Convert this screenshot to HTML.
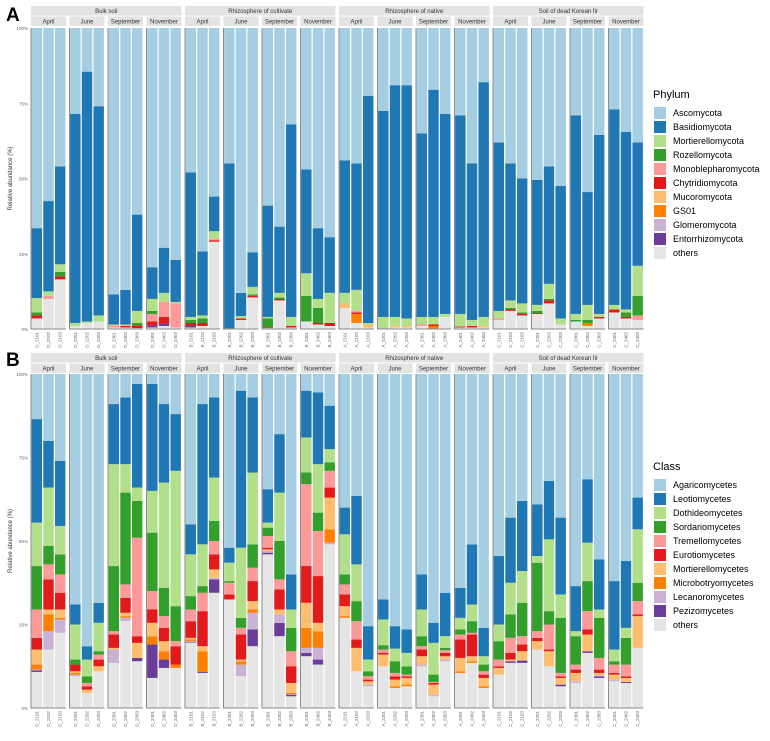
<!DOCTYPE html>
<html><head><meta charset="utf-8">
<style>
body{margin:0;background:#fff;width:770px;height:736px;overflow:hidden;font-family:"Liberation Sans",sans-serif}
svg text{font-family:"Liberation Sans",sans-serif}
</style></head>
<body>
<svg id="chart" width="770" height="736" viewBox="0 0 770 736" xmlns="http://www.w3.org/2000/svg"></svg>
<script>
const groups = ["Bulk soil","Rhizosphere of cultivate","Rhizosphere of native","Soil of dead Korean fir"];
const groupCodes = ["D","B","A","C"];
const months = ["April","June","September","November"];
const monthCodes = ["21","22","23","24"];
const reps = ["01","02","03"];
const yTicks = [0,25,50,75,100];
const yTickLabels = ["0%","25%","50%","75%","100%"];

const phyla = ["Ascomycota","Basidiomycota","Mortierellomycota","Rozellomycota","Monoblepharomycota","Chytridiomycota","Mucoromycota","GS01","Glomeromycota","Entorrhizomycota","others"];
const phylaColors = ["#a6cee3","#1f78b4","#b2df8a","#33a02c","#fb9a99","#e31a1c","#fdbf6f","#ff7f00","#cab2d6","#6a3d9a","#e5e5e5"];
const classes = ["Agaricomycetes","Leotiomycetes","Dothideomycetes","Sordariomycetes","Tremellomycetes","Eurotiomycetes","Mortierellomycetes","Microbotryomycetes","Lecanoromycetes","Pezizomycetes","others"];
const classColors = phylaColors;

// Cumulative tops (%) from bottom: others, Entorrhizo, Glomero, GS01, Mucoro, Chytridio, Monoblepharo, Rozello, Mortierello, Basidio (Ascomycota fills to 100)
const phylumCum = [
[3.5,3.5,3.5,3.5,3.5,4.5,4.5,5.5,10.3,33.5],
[10,10,10,10,10,10,11,11,12.5,42.5],
[16.5,16.5,16.5,16.5,16.5,17.5,17.5,19,21.5,54],
[1,1,1,1,1,1,1,1,2,71.5],
[2,2,2,2,2,2,2,2,2.5,85.5],
[2.5,2.5,2.5,2.5,2.5,2.5,2.5,2.5,4.5,74],
[0.5,0.5,0.5,0.5,0.5,0.5,1,1,1.5,11.5],
[0.5,0.5,0.5,0.5,0.5,1,1,1,1.5,13],
[0.3,0.3,0.3,0.3,0.3,1,1,2,6,38],
[0.5,1.2,1.2,1.2,1.2,2.5,5,6,10,20.5],
[1,1.8,1.8,1.8,1.8,4,9,9,12,27],
[0.5,0.5,0.5,0.5,0.5,0.5,8.5,8.5,9,23],
[0.5,1,1,1,1,2,2,3,4,52],
[1,1,1,1,1,2,2,3.5,4.5,25.8],
[29,29,29,29,29,29.5,30,30,32.5,44],
[0,0,0,0,0,0,0,0.3,0.3,55],
[3,3,3,3,3,3.5,3.5,3.5,4.3,12],
[10.5,10.5,10.5,10.5,10.5,11,11,11.5,14,25.5],
[0.3,0.3,0.3,0.3,0.3,0.6,0.6,3.5,4,41],
[9.5,9.5,9.5,9.5,9.5,10,10,10.5,12,34],
[0.5,0.5,0.5,0.5,0.5,1,1,1,4,68],
[2.5,2.5,2.5,2.5,2.5,2.5,2.5,11,18.5,53],
[1.5,1.5,1.5,1.5,1.5,2,2,7,10,33.5],
[1,1,1,1,1,2,2,2,12,30.5],
[7,7,7,7,8.5,8.5,8.5,8.5,12,56],
[2,2,2,5,5,5.5,6,6,13,55],
[0.5,0.5,0.5,0.5,1.5,1.5,1.5,1.5,2,77.5],
[0,0,0,0,0,0,0,0,4,72.5],
[0.5,0.5,0.5,0.5,1,1,1,1,4,81],
[0.5,0.5,0.5,0.5,1,1,1,1,3.5,81],
[1,1,1,1,1,1,1.5,1.5,4,65],
[0,0,0,1,1,1.5,1.5,1.5,4,79.5],
[4,4,4,4,4,4,4,4,5,71.5],
[0.5,0.5,0.5,0.5,0.5,0.8,0.8,0.8,5,71],
[0.5,0.5,0.5,0.5,0.5,1,1,1,3,55],
[0.5,0.5,0.5,0.5,1,1,1,1,4,82],
[3,3,3,3,3,3,3.5,3.5,6,62],
[6,6,6,6,6,6.5,6.5,7,9.5,55],
[4.5,4.5,4.5,4.5,4.5,5,5,5.5,8.5,50],
[5,5,5,5,5,5.3,5.3,6,8,49.5],
[8.5,8.5,8.5,8.5,8.5,9.5,9.5,10,15,54],
[1.5,1.5,1.5,1.5,1.5,1.5,1.5,1.5,3.5,47.5],
[2.5,2.5,2.5,2.5,2.5,2.5,2.5,3,5,71],
[1,1,1,2,2,2,2,3,8,45.5],
[3.5,3.5,3.5,3.5,3.5,4,4,4,5,64.5],
[5.5,5.5,5.5,5.5,5.5,6.5,6.5,6.5,8,73],
[3.5,3.5,3.5,3.5,3.5,4,4,5.5,6.5,65.5],
[3,3,3,3,3,3,4.5,11,21,62]
];

// Cumulative tops (%) from bottom: others, Pezizo, Lecanoro, Microbotryo, Mortierello, Eurotio, Tremello, Sordario, Dothideo, Leotio (Agaricomycetes fills to 100)
const classCum = [
[10.8,11.3,11.5,13,17.5,21,29.5,42.5,55.5,86.5],
[17.5,17.5,23,28,29.5,38.5,43,48.5,66,80],
[22.5,22.5,26.5,27,29.5,34.5,40,46,54.5,74],
[9.5,9.5,10,10.5,11,13,13,14.5,25,31],
[4.5,4.5,4.5,4.5,5.5,6.5,7.5,9.5,14.5,18.5],
[11,11,11,11,12.5,14.5,16,17,25.5,31.5],
[13.5,13.5,17.5,17.5,18,22,23,42.5,73,91],
[26,26,27,27.5,28.5,33,37,64.5,73,93],
[14,15,15,15,19.5,21.5,51,62,66,97],
[9,19,19,21.5,25.5,29.5,35,52.5,65,97],
[12,14.5,14.5,17,20,24,27.5,36,67.5,91],
[12,12,12,13,13,18.5,20,30.5,71,88],
[19.5,19.7,20,20.5,21,26,29.5,33.5,46,55],
[10.5,10.8,10.8,17,18.5,29,34.5,36.5,49,91],
[34.5,38.5,39,39,41.5,46,50,56,69,93],
[32.5,32.5,32.5,32.5,32.5,34,37.5,38,43.5,48],
[9.5,9.5,13,14,14.5,22,24,27,48,95],
[18.5,23.5,28.5,29.5,32,38,42,49,70.5,93],
[46,46.5,47,47,47.5,48,51.5,54,55.5,65.5],
[21.5,25.5,28,28,29.5,35.5,38.5,50,64.5,82],
[3.5,4,4.2,4.5,7.5,12.5,17,24,29.5,40],
[15.5,16.5,18,24,31.5,42.5,67,70.5,81,95],
[13,14.5,18,23,25.5,39.5,53,58.5,73,94.5],
[49,49,49.5,53.5,63,66,71,73.5,77.5,90.5],
[27,27,27,27.5,30.5,34,37,40,52,60],
[11,11,11,11,18,20.5,26,32,43,63.5],
[6.5,6.5,7,7,8,8.5,9.5,11,14.5,24.5],
[12.5,12.5,12.5,12.5,16,16.5,17.5,18.8,26.5,32.5],
[6,6,6,6.5,8.5,9.5,10.5,14,17.8,24.5],
[6.5,6.5,6.5,7,9,9.5,10,12.5,16.5,23.5],
[12.5,12.5,13,13,15.5,17.5,18.5,21.5,29.5,40],
[3.5,3.5,4,4,7,7.5,7.8,10,19.5,25.5],
[14,14,14.5,14.5,15.5,16.5,17.3,18,21.5,34.5],
[10.5,10.5,10.5,11,15,20.5,22,23.5,27,36],
[13.5,13.5,13.5,14,15.5,22,22.5,26,31,49],
[6,6,6,6.5,9,10,11,13,15.5,24],
[10,10,10,10,12,12.5,14.5,20,25,45.5],
[13.5,14,14,14,14.5,16.5,21,28,37.5,57],
[13.5,14.2,14.2,14.2,17,19,21.5,31.5,41,62],
[17.5,17.5,17.5,17.5,20,21,23,43.5,45.5,61],
[12.5,12.5,12.5,12.5,17,17.5,25,29,50.5,68],
[6.5,7,7,7,9,9.5,10.5,27,34,57],
[7.5,7.5,8,8,10.5,11.5,13,21.5,23,36.5],
[16.5,17,17,17,22,23.5,29,38,49.5,68.5],
[9,9.5,9.8,9.8,10.5,11.5,15,27,29.5,44.5],
[8,8,8.5,8.5,10,10.5,13,14,17.5,38],
[7.5,7.8,7.8,7.8,9,9.5,13,21,24,44],
[18,18,18,18,27.5,28,32,37.5,53.5,63]
];

const NS="http://www.w3.org/2000/svg";
const svg=document.getElementById('chart');
function mk(tag,attrs,parent){const e=document.createElementNS(NS,tag);for(const k in attrs)e.setAttribute(k,attrs[k]);(parent||svg).appendChild(e);return e;}

const X0=31, groupPitch=154, panelPitch=38.5, panelW=35;
function panelX(g,m){return X0+g*groupPitch+m*panelPitch;}
function barX(g,m,r){return panelX(g,m)+r*(panelW/3)+0.6;}
const barW=panelW/3-1.2;

function drawPanel(cfg){
  const yScale=v=>cfg.yBottom-(v/100)*(cfg.yBottom-cfg.yTop);
  const pg=mk('g',{});
  
  
  const lab=mk('text',{x:6,y:cfg.labelY,'font-size':19,'font-weight':'bold',fill:'#000'},pg);
  lab.textContent=cfg.letter;
  
  
  const yt=mk('text',{x:0,y:0,'font-size':6,fill:'#333','text-anchor':'middle',transform:`translate(12,${(cfg.yTop+cfg.yBottom)/2}) rotate(-90)`},pg);
  yt.textContent='Relative abundance (%)';
  
  
  yTicks.forEach((t,i)=>{
    const tx=mk('text',{x:28,y:yScale(t)+2,'font-size':4.5,fill:'#666','text-anchor':'end'},pg);
    tx.textContent=yTickLabels[i];
    
    
  });
  groups.forEach((gname,g)=>{
    const gx=panelX(g,0), gw=panelX(g,3)+panelW-gx;
    const gs=mk('rect',{x:gx,y:cfg.stripY,width:gw,height:9.5,fill:'#e3e3e3'},pg);
    
    
    const gt=mk('text',{x:gx+gw/2,y:cfg.stripY+7,'font-size':6,fill:'#333','text-anchor':'middle'},pg);
    gt.textContent=gname;
    
    
    months.forEach((mname,m)=>{
      const px=panelX(g,m);
      const ms=mk('rect',{x:px,y:cfg.stripY+10.5,width:panelW,height:9.5,fill:'#e3e3e3'},pg);
      
      
      const mt=mk('text',{x:px+panelW/2,y:cfg.stripY+17.5,'font-size':6,fill:'#333','text-anchor':'middle'},pg);
      mt.textContent=mname;
      
      
      reps.forEach((rep,r)=>{
        const idx=g*12+m*3+r;
        const cum=cfg.data[idx];
        const bx=barX(g,m,r);
        let prev=0;
        const nSeg=cum.length;
        for(let s=0;s<=nSeg;s++){
          const top=s<nSeg?cum[s]:100;
          const ci=cfg.colors.length-1-s;
          if(top>prev){
            const rc=mk('rect',{x:bx,y:yScale(top),width:barW,height:yScale(prev)-yScale(top),fill:cfg.colors[ci]},pg);
            
            
          }
          prev=Math.max(prev,top);
        }
        const lx=bx+barW/2+1.5, ly=cfg.yBottom+3;
        const xl=mk('text',{x:0,y:0,'font-size':4.5,fill:'#666','text-anchor':'end',transform:`translate(${lx},${ly}) rotate(-90)`},pg);
        xl.textContent=groupCodes[g]+'_'+monthCodes[m]+rep;
        
        
      });
      const ax=mk('path',{d:`M${px},${cfg.yTop} V${cfg.yBottom} H${px+panelW}`,stroke:'#8a8a8a','stroke-width':1,fill:'none'},pg);
      
      
    });
  });
  const lt=mk('text',{x:653,y:cfg.legendY,'font-size':11,fill:'#000'},pg);
  lt.textContent=cfg.legendTitle;
  
  
  cfg.series.forEach((sname,i)=>{
    const ky=cfg.legendY+9+i*14;
    const k=mk('rect',{x:654,y:ky,width:12,height:12,fill:cfg.colors[i]},pg);
    
    
    const kt=mk('text',{x:673,y:ky+9,'font-size':9,fill:'#000'},pg);
    kt.textContent=sname;
    
    
  });
}

drawPanel({name:'panel-a-phylum',letter:'A',labelY:21,stripY:6,yTop:28,yBottom:329,data:phylumCum,series:phyla,colors:phylaColors,legendTitle:'Phylum',legendY:98});
drawPanel({name:'panel-b-class',letter:'B',labelY:366,stripY:353,yTop:374,yBottom:708,data:classCum,series:classes,colors:classColors,legendTitle:'Class',legendY:470});
</script>
</body></html>
